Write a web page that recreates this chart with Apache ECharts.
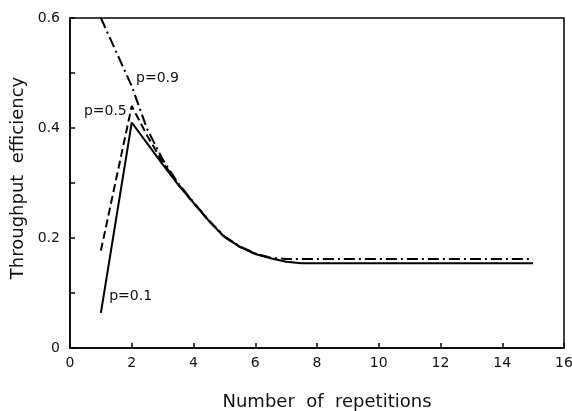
<!DOCTYPE html>
<html>
<head>
<meta charset="utf-8">
<script src="https://cdn.jsdelivr.net/npm/echarts@6/dist/echarts.min.js"></script>
<style>html,body{margin:0;padding:0;background:#fff}#c{width:572px;height:411px}</style>
</head>
<body>
<div id="c"></div>
<script>
// x values (number of repetitions)
var xs = [1, 2, 2.5, 3, 3.5, 4, 4.5, 5, 5.5, 6, 6.5, 7, 7.5, 8, 9, 10, 11, 12, 13, 14, 15];
// throughput efficiency, p = 0.1 (solid)
var p01 = [0.064, 0.410, 0.372, 0.334, 0.297, 0.264, 0.231, 0.202, 0.184, 0.171, 0.163, 0.157, 0.154, 0.154, 0.154, 0.154, 0.154, 0.154, 0.154, 0.154, 0.154];
// p = 0.5 (dashed; merges with the others after x = 3)
var xs05 = [1, 2, 2.5, 3, 3.5, 4, 4.5, 5, 5.5, 6, 6.5];
var p05 = [0.177, 0.440, 0.386, 0.338, 0.298, 0.264, 0.231, 0.202, 0.184, 0.171, 0.164];
// p = 0.9 (dash-dot)
var p09 = [0.600, 0.476, 0.398, 0.343, 0.300, 0.265, 0.232, 0.203, 0.185, 0.172, 0.164, 0.162, 0.162, 0.162, 0.162, 0.162, 0.162, 0.162, 0.162, 0.162, 0.162];
var xTicks = [0, 2, 4, 6, 8, 10, 12, 14, 16];
var yTickLabels = ['0', '0.2', '0.4', '0.6'];
var curveLabels = ['p=0.1', 'p=0.5', 'p=0.9'];

function pairs(xv, ys){ return xv.map(function(x,i){ return [x, ys[i]]; }); }

var FONT = 'DejaVu Sans';
var chart = echarts.init(document.getElementById('c'), null, {renderer:'canvas'});
var lineBase = {type:'line', symbol:'none', smooth:false, clip:true};
chart.setOption({
  animation:false,
  backgroundColor:'#fff',
  grid:{left:70, right:8, top:18, bottom:63, show:true, borderColor:'#000', borderWidth:1.5, containLabel:false, outerBoundsMode:'none'},
  xAxis:{
    type:'value', min:0, max:16, interval:2,
    name:'Number  of  repetitions', nameLocation:'middle', nameGap:45,
    nameTextStyle:{fontFamily:FONT, fontSize:18, color:'#111', padding:[0,0,0,20]},
    axisLine:{show:true, lineStyle:{color:'#000', width:1.5}},
    axisTick:{show:true, inside:true, length:5, lineStyle:{color:'#000', width:1.5}},
    axisLabel:{fontFamily:FONT, fontSize:14, color:'#111', margin:8,
      formatter:function(v){ return xTicks.indexOf(v) >= 0 ? String(v) : ''; }},
    splitLine:{show:false}
  },
  yAxis:{
    type:'value', min:0, max:0.6, interval:0.1,
    name:'Throughput  efficiency', nameLocation:'middle', nameGap:43,
    nameTextStyle:{fontFamily:FONT, fontSize:18, color:'#111', padding:[0,0,0,10]},
    axisLine:{show:true, lineStyle:{color:'#000', width:1.5}},
    axisTick:{show:true, inside:true, length:5, lineStyle:{color:'#000', width:1.5}},
    axisLabel:{fontFamily:FONT, fontSize:14, color:'#111', margin:10,
      formatter:function(v){
        var k = Math.round(v*10);
        return (k % 2 === 0) ? yTickLabels[k/2] : '';
      }},
    splitLine:{show:false}
  },
  series:[
    Object.assign({}, lineBase, {name:curveLabels[0], data:pairs(xs, p01), lineStyle:{color:'#000', width:2, type:'solid'}}),
    Object.assign({}, lineBase, {name:curveLabels[1], data:pairs(xs05, p05), lineStyle:{color:'#000', width:2, type:[8,4]}}),
    Object.assign({}, lineBase, {name:curveLabels[2], data:pairs(xs, p09), lineStyle:{color:'#000', width:2, type:[11,4,2,4]}})
  ]
});

// curve labels anchored at data coordinates
function lbl(text, x, y){
  var p = chart.convertToPixel({gridIndex:0}, [x, y]);
  return {type:'text', x:p[0], y:p[1], style:{text:text, fontFamily:FONT, fontSize:14, fill:'#111', textVerticalAlign:'middle'}};
}
chart.setOption({graphic:[
  lbl(curveLabels[0], 1.27, 0.093),
  lbl(curveLabels[1], 0.45, 0.43),
  lbl(curveLabels[2], 2.14, 0.49)
]});
</script>
</body>
</html>
